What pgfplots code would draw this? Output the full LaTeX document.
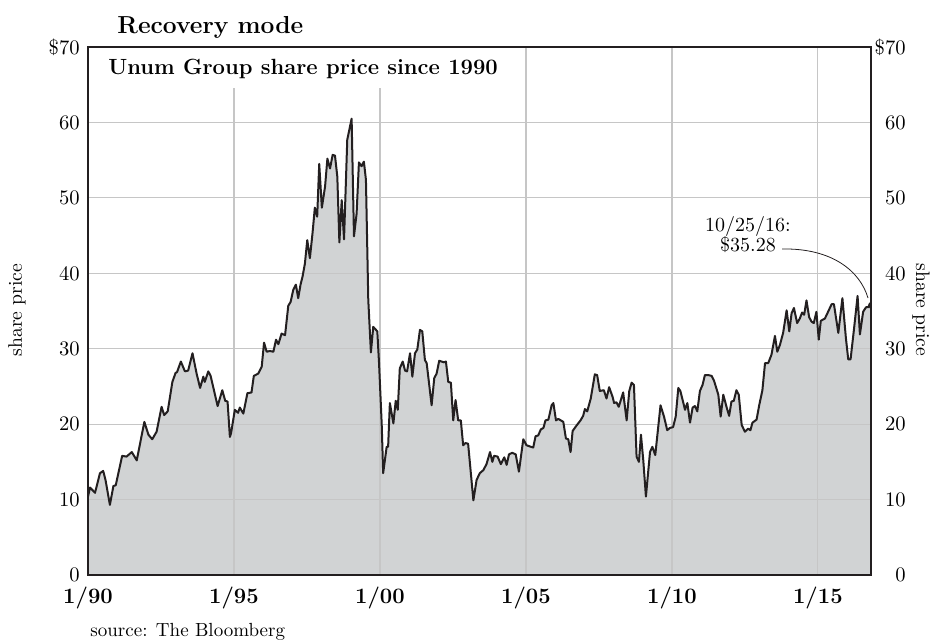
\documentclass[border=0pt]{standalone}
\usepackage{pgfplots}
\pgfplotsset{compat=1.18}
\definecolor{areagray}{HTML}{D1D3D4}
\definecolor{gridgray}{HTML}{C6C6C6}
\definecolor{inkblack}{HTML}{231F20}
\pgfplotstableread{
x y
1990.00 10.4
1990.07 11.6
1990.24 10.9
1990.41 13.5
1990.52 13.8
1990.60 12.6
1990.75 9.3
1990.87 11.8
1990.95 11.9
1991.17 15.8
1991.32 15.7
1991.50 16.3
1991.67 15.2
1991.93 20.3
1992.07 18.6
1992.20 18.0
1992.35 19.0
1992.52 22.3
1992.61 21.2
1992.73 21.7
1992.89 25.6
1993.00 26.8
1993.05 26.9
1993.18 28.3
1993.32 27.0
1993.43 27.1
1993.58 29.4
1993.72 26.7
1993.84 24.8
1993.95 26.3
1994.00 25.6
1994.12 27.0
1994.20 26.4
1994.44 22.4
1994.60 24.5
1994.70 23.1
1994.78 23.0
1994.86 18.3
1994.90 18.8
1995.03 21.9
1995.14 21.5
1995.20 22.2
1995.32 21.4
1995.46 24.1
1995.60 24.2
1995.68 26.4
1995.83 26.7
1995.95 27.6
1996.03 30.8
1996.12 29.6
1996.23 29.7
1996.35 29.6
1996.44 31.2
1996.52 30.6
1996.63 32.0
1996.75 31.8
1996.86 35.7
1996.94 36.2
1997.03 37.8
1997.12 38.5
1997.20 36.7
1997.28 38.5
1997.35 39.6
1997.43 41.3
1997.51 44.4
1997.60 42.0
1997.69 45.3
1997.77 48.7
1997.85 47.5
1997.92 54.5
1998.01 48.7
1998.12 51.5
1998.20 55.2
1998.29 53.9
1998.38 55.7
1998.46 55.6
1998.54 52.8
1998.61 44.1
1998.69 49.7
1998.77 44.5
1998.88 57.7
1999.03 60.5
1999.11 44.9
1999.20 47.9
1999.28 54.7
1999.37 54.2
1999.45 54.8
1999.52 52.4
1999.60 36.5
1999.69 29.5
1999.77 32.9
1999.91 32.3
1999.97 28.0
2000.06 20.0
2000.11 13.5
2000.23 17.0
2000.28 17.0
2000.34 22.8
2000.46 20.1
2000.54 23.1
2000.61 21.9
2000.68 27.4
2000.78 28.3
2000.86 27.1
2000.93 27.0
2001.03 29.4
2001.11 26.3
2001.20 29.4
2001.28 29.9
2001.37 32.5
2001.45 32.3
2001.54 28.5
2001.60 28.1
2001.77 22.5
2001.86 26.1
2001.94 26.7
2002.03 28.4
2002.11 28.3
2002.19 28.2
2002.26 28.3
2002.34 25.6
2002.43 25.5
2002.51 20.5
2002.59 23.2
2002.68 20.5
2002.77 20.5
2002.85 17.2
2002.93 17.5
2003.02 17.4
2003.20 9.9
2003.31 12.6
2003.42 13.5
2003.54 13.9
2003.65 14.7
2003.77 16.3
2003.85 15.0
2003.91 15.8
2004.03 15.7
2004.14 14.7
2004.26 15.6
2004.34 14.6
2004.42 16.0
2004.53 16.2
2004.65 16.0
2004.76 13.7
2004.91 18.0
2005.02 17.2
2005.17 17.0
2005.25 16.9
2005.33 18.4
2005.42 18.5
2005.51 19.3
2005.60 19.5
2005.67 20.5
2005.77 20.6
2005.88 22.5
2005.94 22.8
2006.03 20.5
2006.11 20.7
2006.28 20.3
2006.37 18.1
2006.45 18.0
2006.53 16.3
2006.60 19.1
2006.73 19.8
2006.87 20.5
2006.96 21.1
2007.02 22.0
2007.10 21.7
2007.22 23.4
2007.36 26.6
2007.44 26.5
2007.53 24.4
2007.67 24.5
2007.76 23.4
2007.85 24.9
2007.97 23.6
2008.02 22.8
2008.10 22.9
2008.18 22.3
2008.33 24.2
2008.45 20.5
2008.54 24.4
2008.62 25.5
2008.70 25.2
2008.79 15.7
2008.87 15.0
2008.94 18.6
2009.02 15.2
2009.11 10.4
2009.25 16.3
2009.33 17.0
2009.43 15.9
2009.61 22.5
2009.73 21.0
2009.84 19.2
2009.93 19.5
2010.04 19.6
2010.13 21.0
2010.22 24.8
2010.29 24.4
2010.45 21.9
2010.53 22.8
2010.62 20.2
2010.71 22.2
2010.79 22.4
2010.87 21.7
2010.96 24.4
2011.05 25.2
2011.13 26.5
2011.25 26.5
2011.36 26.4
2011.44 25.8
2011.59 23.9
2011.67 21.0
2011.76 23.9
2011.87 22.3
2011.96 21.1
2012.04 23.0
2012.12 23.1
2012.21 24.5
2012.29 23.9
2012.39 19.9
2012.50 19.0
2012.61 19.4
2012.69 19.2
2012.76 20.2
2012.90 20.6
2012.99 22.5
2013.10 24.5
2013.19 28.1
2013.30 28.1
2013.41 29.2
2013.53 31.7
2013.61 29.6
2013.70 30.5
2013.81 32.1
2013.93 35.1
2014.02 32.3
2014.10 34.7
2014.18 35.4
2014.29 33.4
2014.38 34.0
2014.46 34.8
2014.53 34.5
2014.61 36.4
2014.70 34.2
2014.78 33.6
2014.86 33.4
2014.95 34.9
2015.03 31.2
2015.10 33.7
2015.24 34.0
2015.35 34.9
2015.47 35.9
2015.55 35.9
2015.70 32.1
2015.84 36.7
2015.96 31.4
2016.04 28.6
2016.12 28.6
2016.24 32.7
2016.36 37.0
2016.44 31.9
2016.55 34.9
2016.65 35.5
2016.73 35.5
2016.78 36.0
2016.82 35.28
}\pricedata
\begin{document}
\begin{tikzpicture}
\begin{axis}[
  set layers,
  scale only axis, width=391.5pt, height=264pt,
  at={(0pt,0pt)}, anchor=south west,
  xmin=1990, xmax=2016.82, ymin=0, ymax=70,
  xtick={1990,1995,2000,2005,2010,2015},
  xticklabels={1/90,1/95,1/00,1/05,1/10,1/15},
  ytick={0,10,20,30,40,50,60,70},
  yticklabels={0,10,20,30,40,50,60,\$70},
  /pgf/number format/assume math mode=true,
  grid=major, grid style={draw=gridgray, line width=0.6pt},
  major tick length=0pt,
  axis line style={line width=1pt, draw=inkblack},
  xticklabel style={font=\bfseries\fontsize{11}{11}\selectfont, inner sep=0pt, anchor=north, yshift=-6pt},
  yticklabel style={font=\fontsize{10.3}{11}\selectfont, inner sep=0pt, anchor=east, xshift=-4pt},
]
\addplot[draw=none, fill=areagray, on layer=axis background] table[x=x,y=y]{\pricedata} \closedcycle;
\addplot[inkblack, line width=1pt, line join=round, no markers] table[x=x,y=y]{\pricedata};
\end{axis}
\begin{axis}[
  scale only axis, width=391.5pt, height=264pt,
  at={(0pt,0pt)}, anchor=south west,
  xmin=1990, xmax=2016.82, ymin=0, ymax=70,
  hide x axis,
  axis y line*=right,
  ytick={0,10,20,30,40,50,60,70},
  yticklabels={0,10,20,30,40,50,60,\$70},
  /pgf/number format/assume math mode=true,
  major tick length=0pt,
  axis line style={line width=1pt, draw=inkblack},
  yticklabel style={font=\fontsize{10.3}{11}\selectfont, inner sep=0pt, anchor=east, xshift=17.5pt},
]
\addplot[draw=none] coordinates {(1990,0) (2016.82,70)};
\end{axis}
% title box covering the grid
\fill[white] (0.6pt,243.5pt) rectangle (213.5pt,263.4pt);
\node[anchor=base west, inner sep=0pt, font=\bfseries\fontsize{11}{13}\selectfont] at (10pt,250.5pt) {Unum Group share price since 1990};
\node[anchor=base west, inner sep=0pt, font=\bfseries\fontsize{12.3}{14}\selectfont] at (14.5pt,271pt) {Recovery mode};
\node[anchor=base west, inner sep=0pt, font=\fontsize{9.5}{11}\selectfont] at (1pt,-30.5pt) {source: The Bloomberg};
\node[rotate=90, inner sep=0pt, font=\fontsize{9.8}{11}\selectfont] at (-35.5pt,132.5pt) {share price};
\node[rotate=-90, inner sep=0pt, font=\fontsize{9.8}{11}\selectfont] at (416.5pt,132.5pt) {share price};
% annotation
\node[anchor=base, inner sep=0pt, font=\fontsize{10}{11}\selectfont] at (330pt,172pt) {10/25/16:};
\node[anchor=base, inner sep=0pt, font=\fontsize{10}{11}\selectfont] at (330pt,162pt) {\$35.28};
\draw[inkblack, line width=0.4pt] (347pt,163pt) .. controls (372pt,163.5pt) and (386pt,152pt) .. (390pt,138.5pt);
\pgfresetboundingbox
\path[use as bounding box] (-44pt,-32pt) rectangle (426.5pt,287.5pt);
\end{tikzpicture}
\end{document}
